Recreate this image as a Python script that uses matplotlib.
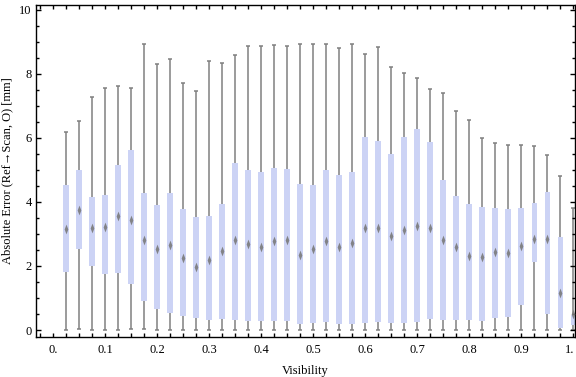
import matplotlib
matplotlib.use("Agg")
import matplotlib.pyplot as plt
import numpy as np
from matplotlib.ticker import MultipleLocator, FixedLocator
from matplotlib.path import Path
from matplotlib.transforms import ScaledTranslation

plt.rcParams['font.family'] = ['Liberation Serif', 'DejaVu Serif']

visibility = [0.025 * (i + 1) for i in range(40)]
whisker_low = [0, 0.02, 0, 0, 0, 0.02, 0.02, 0, 0, 0,
               0, 0, 0, 0, 0, 0, 0, 0, 0, 0,
               0, 0, 0, 0, 0, 0, 0, 0, 0, 0,
               0, 0, 0, 0, 0, 0, 0, 0, 0, 0]
q1 = [1.82, 2.54, 2.01, 1.76, 1.79, 1.45, 0.92, 0.67, 0.54, 0.45,
      0.38, 0.32, 0.35, 0.32, 0.29, 0.29, 0.29, 0.29, 0.18, 0.23,
      0.26, 0.18, 0.20, 0.23, 0.26, 0.23, 0.23, 0.26, 0.35, 0.32,
      0.32, 0.32, 0.29, 0.39, 0.42, 0.79, 2.14, 0.51, 0.07, 0.15]
median = [3.15, 3.74, 3.20, 3.22, 3.57, 3.43, 2.81, 2.53, 2.66, 2.25,
          1.98, 2.19, 2.46, 2.81, 2.68, 2.59, 2.77, 2.81, 2.34, 2.53,
          2.77, 2.58, 2.72, 3.20, 3.20, 2.94, 3.12, 3.26, 3.19, 2.82,
          2.58, 2.32, 2.28, 2.43, 2.41, 2.64, 2.83, 2.84, 1.15, 0.50]
q3 = [4.53, 5.00, 4.16, 4.22, 5.16, 5.63, 4.29, 3.91, 4.29, 3.78,
      3.53, 3.56, 3.95, 5.22, 5.00, 4.94, 5.06, 5.03, 4.56, 4.53,
      5.00, 4.84, 4.94, 6.04, 5.91, 5.50, 6.04, 6.28, 5.88, 4.68,
      4.19, 3.94, 3.84, 3.81, 3.78, 3.81, 3.97, 4.31, 2.91, 0.48]
whisker_high = [6.20, 6.52, 7.27, 7.55, 7.61, 7.55, 8.94, 8.31, 8.46, 7.72,
                7.47, 8.40, 8.34, 8.58, 8.86, 8.86, 8.89, 8.86, 8.93, 8.93,
                8.93, 8.80, 8.93, 8.61, 8.83, 8.21, 8.02, 7.86, 7.52, 7.40,
                6.83, 6.56, 6.00, 5.83, 5.77, 5.77, 5.74, 5.46, 4.80, 3.80]

x_ticks = [0.0, 0.1, 0.2, 0.3, 0.4, 0.5, 0.6, 0.7, 0.8, 0.9, 1.0]
x_ticklabels = ["0.", "0.1", "0.2", "0.3", "0.4", "0.5", "0.6", "0.7", "0.8", "0.9", "1."]
y_ticks = [0, 2, 4, 6, 8, 10]

box_color = '#ccd3f5'
whisk_color = '#808080'

fig = plt.figure(figsize=(5.76, 3.77), dpi=100)
ax = fig.add_axes([0.0625, 0.1053, 0.935, 0.8827])

x = np.array(visibility)
lo = np.array(whisker_low); a = np.array(q1); b = np.array(q3); hi = np.array(whisker_high)
bw = 0.011
cw = 0.008

ax.vlines(x, lo, a, color=whisk_color, lw=1.1, zorder=1)
ax.vlines(x, b, hi, color=whisk_color, lw=1.1, zorder=1)
ax.hlines(lo, x - cw / 2, x + cw / 2, color=whisk_color, lw=1.1, zorder=1)
ax.hlines(hi, x - cw / 2, x + cw / 2, color=whisk_color, lw=1.1, zorder=1)
ax.bar(x, b - a, bottom=a, width=bw, color=box_color, edgecolor='none', zorder=2)

diamond = Path([(0, 1), (0.38, 0), (0, -1), (-0.38, 0), (0, 1)],
               [Path.MOVETO, Path.LINETO, Path.LINETO, Path.LINETO, Path.CLOSEPOLY])
ax.plot(x, median, linestyle='none', marker=diamond, markersize=7, markeredgewidth=0,
        color='#7a7a7a', alpha=0.9, zorder=3)

ax.set_xlim(-0.0333, 1.0023)
ax.set_ylim(-0.228, 10.17)

ax.xaxis.set_major_locator(FixedLocator(x_ticks))
ax.set_xticklabels(x_ticklabels)
ax.xaxis.set_minor_locator(MultipleLocator(0.025))
ax.yaxis.set_major_locator(FixedLocator(y_ticks))
ax.yaxis.set_minor_locator(MultipleLocator(0.5))

ax.tick_params(axis='x', which='both', direction='in', top=True, bottom=True,
               length=3, width=1, labelsize=9, pad=5)
ax.tick_params(axis='y', which='major', direction='in', left=True, right=True,
               length=3.8, width=1, labelsize=9, pad=3)
ax.tick_params(axis='y', which='minor', direction='in', left=True, right=True,
               length=2.2, width=1)
for s in ax.spines.values():
    s.set_linewidth(1.0)

last = ax.get_xticklabels()[-1]
last.set_transform(last.get_transform() + ScaledTranslation(-3 / 72, 0, fig.dpi_scale_trans))

ax.set_xlabel("Visibility", fontsize=9, labelpad=6)
ax.set_ylabel("Absolute Error (Ref\u2192Scan, O) [mm]", fontsize=9, labelpad=4)

fig.savefig("out.png", dpi=100)
